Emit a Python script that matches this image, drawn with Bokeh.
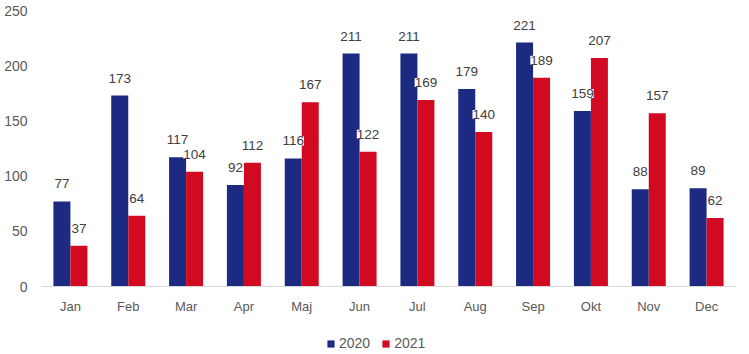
from bokeh.plotting import figure
from bokeh.layouts import column
from bokeh.models import (ColumnDataSource, Range1d, FactorRange, LabelSet, Legend, LegendItem)
from bokeh.transform import dodge
from bokeh.core.properties import value
from bokeh.embed import file_html
from bokeh.resources import INLINE

months = ["Jan", "Feb", "Mar", "Apr", "Maj", "Jun", "Jul", "Aug", "Sep", "Okt", "Nov", "Dec"]
v2020 = [77, 173, 117, 92, 116, 211, 211, 179, 221, 159, 88, 89]
v2021 = [37, 64, 104, 112, 167, 122, 169, 140, 189, 207, 157, 62]
series_names = ["2020", "2021"]
y_ticks = [0, 50, 100, 150, 200, 250]

BLUE = "#1D2A82"
RED = "#D10A22"
FONT = "Liberation Sans"

src = ColumnDataSource(data=dict(
    m=months, a=v2020, b=v2021,
    la=[str(v) for v in v2020], lb=[str(v) for v in v2021],
))

p = figure(width=749, height=320, x_range=FactorRange(*months), y_range=Range1d(0, 250),
           output_backend="svg", toolbar_location=None,
           min_border_left=41, min_border_right=14, min_border_top=10, min_border_bottom=34)
p.outline_line_color = None
p.xgrid.grid_line_color = None
p.ygrid.grid_line_color = None
p.background_fill_color = "white"
p.border_fill_color = "white"

bw = 0.294
off = 0.147
r1 = p.vbar(x=dodge("m", -off, range=p.x_range), top="a", width=bw, source=src,
            fill_color=BLUE, line_color=None)
r2 = p.vbar(x=dodge("m", off, range=p.x_range), top="b", width=bw, source=src,
            fill_color=RED, line_color=None)

for col, lab, dx in (("a", "la", -off), ("b", "lb", off)):
    ls = LabelSet(x=dodge("m", dx, range=p.x_range), y=col, text=lab, source=src,
                  text_align="center", text_baseline="alphabetic", y_offset=13,
                  text_font=value(FONT), text_font_size=value("13.5px"), text_color="#404040",
                  background_fill_color="white", background_fill_alpha=1.0)
    p.add_layout(ls)

p.yaxis.ticker = y_ticks
p.yaxis.axis_line_color = None
p.yaxis.major_tick_line_color = None
p.yaxis.minor_tick_line_color = None
p.yaxis.major_label_text_font = FONT
p.yaxis.major_label_text_font_size = "14px"
p.yaxis.major_label_text_color = "#595959"
p.yaxis.major_label_standoff = 8

p.xaxis.axis_line_color = "#D9D9D9"
p.xaxis.major_tick_line_color = None
p.xaxis.minor_tick_line_color = None
p.xaxis.major_label_text_font = FONT
p.xaxis.major_label_text_font_size = "13px"
p.xaxis.major_label_text_color = "#595959"
p.xaxis.major_label_standoff = 6

# legend strip below the chart (hidden proxy renderers share the same data)
pl = figure(width=749, height=34, x_axis_type=None, y_axis_type=None,
            x_range=p.x_range, y_range=p.y_range,
            output_backend="svg", toolbar_location=None,
            min_border_left=0, min_border_right=0, min_border_top=0, min_border_bottom=0)
pl.outline_line_color = None
pl.background_fill_color = "white"
pl.border_fill_color = "white"
k1 = pl.vbar(x=dodge("m", -off, range=p.x_range), top="a", width=bw, source=src,
             fill_color=BLUE, line_color=None, visible=False)
k2 = pl.vbar(x=dodge("m", off, range=p.x_range), top="b", width=bw, source=src,
             fill_color=RED, line_color=None, visible=False)

legend = Legend(items=[LegendItem(label=series_names[0], renderers=[k1]),
                       LegendItem(label=series_names[1], renderers=[k2])],
                orientation="horizontal", location=(285, 3),
                label_text_font=FONT, label_text_font_size="14px",
                label_text_color="#595959", glyph_width=9, glyph_height=9,
                label_standoff=4, spacing=11, padding=0, margin=0,
                inactive_fill_alpha=0.0,
                border_line_color=None, background_fill_alpha=0)
pl.add_layout(legend, "center")

layout = column(p, pl, spacing=0)
open("out.html", "w").write(file_html(layout, INLINE))
